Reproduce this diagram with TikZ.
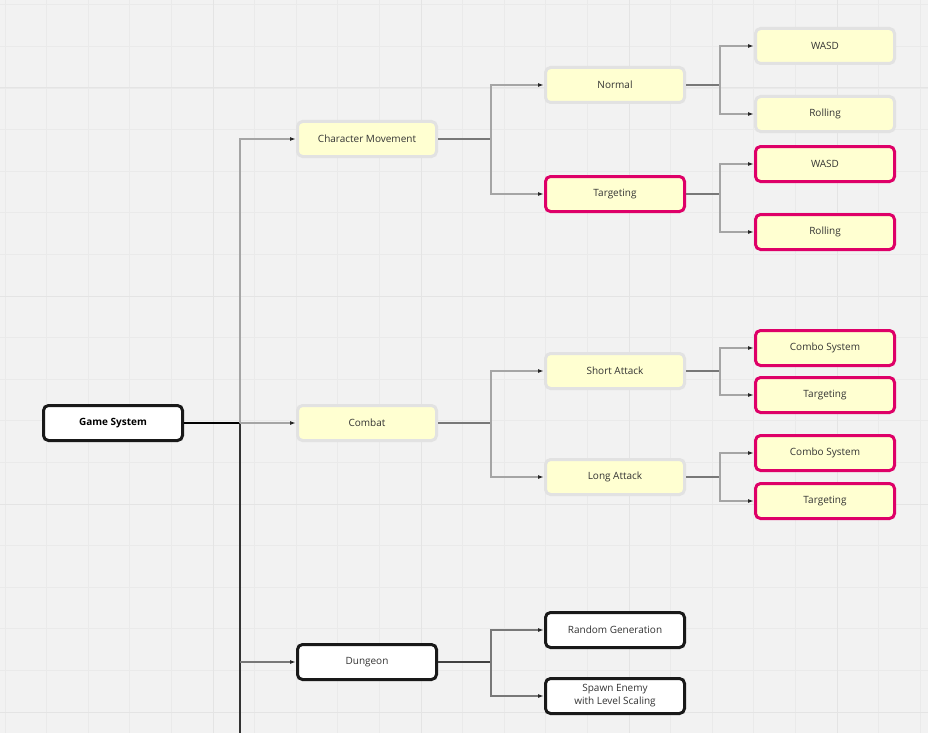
\documentclass[tikz,border=0pt]{standalone}
\usepackage{fontspec}
\setmainfont{Open Sans}
\usepackage{xcolor}
\usepackage{tikz}
\usetikzlibrary{arrows.meta,calc}
\definecolor{fondo}{RGB}{242,242,242}
\definecolor{rejilla}{RGB}{234,234,234}
\definecolor{rejillamayor}{RGB}{228,228,228}
\definecolor{crema}{RGB}{255,255,209}
\definecolor{borde}{RGB}{226,226,226}
\definecolor{rosa}{RGB}{222,0,104}
\definecolor{tinta}{RGB}{51,51,51}
\definecolor{linea}{RGB}{165,165,165}
\definecolor{lineaosc}{RGB}{120,120,120}
\tikzset{
  caja/.style={draw=borde,line width=3pt,rounded corners=5pt,fill=crema,minimum width=139pt,minimum height=35pt,inner sep=0pt,align=center,text=tinta,font=\fontsize{10}{13}\selectfont},
  cajarosa/.style={caja,draw=rosa},
  cajanegra/.style={caja,draw=black!90,fill=white},
  flecha/.style={draw=linea,line width=1.2pt,-{Latex[length=6pt,width=4pt,black!85]}},
  rama/.style={draw=lineaosc,line width=1.2pt}
}
\begin{document}
\begin{tikzpicture}[x=1pt,y=-1pt]
\useasboundingbox (0,0) rectangle (928,733);
\fill[fondo] (0,0) rectangle (928,733);
% rejilla
\foreach \i in {0,...,22} {
  \draw[rejilla,line width=0.8pt] ({5+41.6*\i},0) -- ({5+41.6*\i},733);
  \draw[rejilla,line width=0.8pt] (0,{4.8+41.6*\i}) -- (928,{4.8+41.6*\i});
}
\foreach \i in {0,...,4} {
  \draw[rejillamayor,line width=1pt] ({213+208*\i},0) -- ({213+208*\i},733);
  \draw[rejillamayor,line width=1pt] (0,{88+208*\i}) -- (928,{88+208*\i});
}

\node[cajanegra,font=\fontsize{10}{13}\selectfont\bfseries,text=black] (gs) at (113,423) {Game System};

\node[caja] (mov) at (367,139) {Character Movement};
\node[caja] (com) at (367,423) {Combat};
\node[cajanegra] (dun) at (367,662) {Dungeon};

\node[caja] (norm) at (615,85) {Normal};
\node[cajarosa] (targ) at (615,194) {Targeting};
\node[caja] (short) at (615,371) {Short Attack};
\node[caja] (long) at (615,477) {Long Attack};
\node[cajanegra] (rand) at (615,630) {Random Generation};
\node[cajanegra] (spawn) at (615,696) {Spawn Enemy\\with Level Scaling};

\node[caja] (wasdA) at (825,46) {WASD};
\node[caja] (rollA) at (825,114) {Rolling};
\node[cajarosa] (wasdB) at (825,164) {WASD};
\node[cajarosa] (rollB) at (825,232) {Rolling};
\node[cajarosa] (comboA) at (825,348) {Combo System};
\node[cajarosa] (targA) at (825,395) {Targeting};
\node[cajarosa] (comboB) at (825,453) {Combo System};
\node[cajarosa] (targB) at (825,501) {Targeting};

% tronco
\draw[black,line width=1.5pt] (gs.east) -- ++(56,0) coordinate (tr);
\coordinate (fin) at (tr |- 0,733);
\draw[draw=black!80,line width=1.3pt] (tr) -- (fin);
\draw[flecha] (tr) |- (mov.west);
\draw[flecha] (tr) -- (com.west);
\draw[flecha,draw=lineaosc] (fin |- dun.west) -- (dun.west);

% segundo nivel
\draw[rama] (mov.east) -- ++(53,0) coordinate (b1);
\draw[flecha] (b1) |- (norm.west);
\draw[flecha] (b1) |- (targ.west);
\draw[rama] (com.east) -- ++(53,0) coordinate (b2);
\draw[flecha] (b2) |- (short.west);
\draw[flecha] (b2) |- (long.west);
\draw[rama,draw=black!75] (dun.east) -- ++(53,0) coordinate (b3);
\draw[flecha,draw=lineaosc] (b3) |- (rand.west);
\draw[flecha,draw=lineaosc] (b3) |- (spawn.west);

% tercer nivel
\draw[rama] (norm.east) -- ++(34,0) coordinate (c1);
\draw[flecha] (c1) |- (wasdA.west);
\draw[flecha] (c1) |- (rollA.west);
\draw[rama] (targ.east) -- ++(34,0) coordinate (c2);
\draw[flecha] (c2) |- (wasdB.west);
\draw[flecha] (c2) |- (rollB.west);
\draw[rama] (short.east) -- ++(34,0) coordinate (c3);
\draw[flecha] (c3) |- (comboA.west);
\draw[flecha] (c3) |- (targA.west);
\draw[rama] (long.east) -- ++(34,0) coordinate (c4);
\draw[flecha] (c4) |- (comboB.west);
\draw[flecha] (c4) |- (targB.west);
\end{tikzpicture}
\end{document}
